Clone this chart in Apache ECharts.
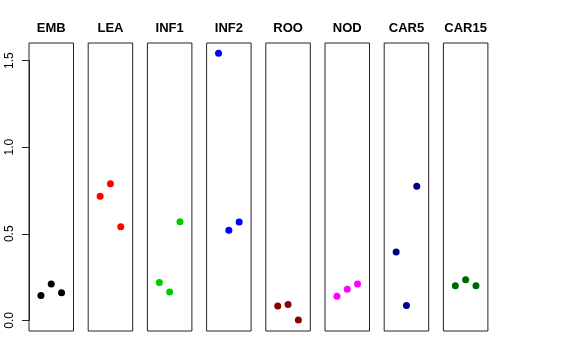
<!DOCTYPE html>
<html><head><meta charset="utf-8">
<script src="https://cdn.jsdelivr.net/npm/echarts@6/dist/echarts.min.js"></script>
<style>html,body{margin:0;padding:0;background:#fff}#c{width:576px;height:360px}</style>
</head><body><div id="c"></div>
<script>
const categories = ['EMB','LEA','INF1','INF2','ROO','NOD','CAR5','CAR15'];
const colors = ['#000000','#FF0000','#00CD00','#0000FF','#8B0000','#FF00FF','#00008B','#006400'];
const EMB = [0.144, 0.210, 0.160];
const LEA = [0.716, 0.789, 0.541];
const INF1 = [0.219, 0.164, 0.570];
const INF2 = [1.542, 0.520, 0.568];
const ROO = [0.083, 0.092, 0.002];
const NOD = [0.139, 0.179, 0.210];
const CAR5 = [0.395, 0.085, 0.774];
const CAR15 = [0.200, 0.235, 0.200];
const seriesValues = [EMB, LEA, INF1, INF2, ROO, NOD, CAR5, CAR15];
const yTicks = [0, 0.5, 1.0, 1.5];

const yMaxData = 1.54;
const pad = yMaxData * 0.04;
const yMin = -pad, yMax = yMaxData + pad;

const panelLeft0 = 29, panelStep = 59.2, panelW = 44.5, panelTop = 43, panelH = 288;
const grids = [], xAxes = [], yAxes = [], series = [], titles = [];
categories.forEach((cat, i) => {
  const left = panelLeft0 + i * panelStep;
  grids.push({left: left, top: panelTop, width: panelW, height: panelH, show: true, borderColor: '#222', borderWidth: 1, backgroundColor: 'transparent'});
  xAxes.push({type: 'value', gridIndex: i, min: -0.16, max: 4.16, show: false});
  yAxes.push({type: 'value', gridIndex: i, min: yMin, max: yMax, show: false});
  series.push({type: 'scatter', xAxisIndex: i, yAxisIndex: i, symbolSize: 7,
    itemStyle: {color: colors[i], opacity: 1},
    data: seriesValues[i].map((v, j) => [j + 1, v]), silent: true, animation: false});
  titles.push({text: cat, left: left + panelW / 2, top: 22, textAlign: 'center', padding: 0,
    textStyle: {fontFamily: 'Liberation Sans, Arial', fontWeight: 'bold', fontSize: 13, color: '#000'}});
});
// tick axis grid spanning 0..1.5 exactly
const pxPerUnit = panelH / (yMax - yMin);
const zeroY = panelTop + panelH - (0 - yMin) * pxPerUnit;
const topY = zeroY - 1.5 * pxPerUnit;
const ti = categories.length;
grids.push({left: panelLeft0, top: topY, width: 1, height: zeroY - topY, show: false});
xAxes.push({type: 'value', gridIndex: ti, show: false, min: 0, max: 1});
yAxes.push({type: 'value', gridIndex: ti, min: yTicks[0], max: yTicks[yTicks.length-1], interval: 0.5,
  axisLine: {show: true, lineStyle: {color: '#222', width: 1}},
  axisTick: {show: true, length: 7, lineStyle: {color: '#222'}},
  splitLine: {show: false},
  axisLabel: {rotate: 90, margin: 13, fontSize: 12, color: '#000', fontFamily: 'Liberation Sans, Arial',
    formatter: v => v.toFixed(1)}});

const chart = echarts.init(document.getElementById('c'), null, {renderer: 'canvas'});
chart.setOption({animation: false, backgroundColor: '#fff', title: titles, grid: grids, xAxis: xAxes, yAxis: yAxes, series: series});
</script></body></html>
